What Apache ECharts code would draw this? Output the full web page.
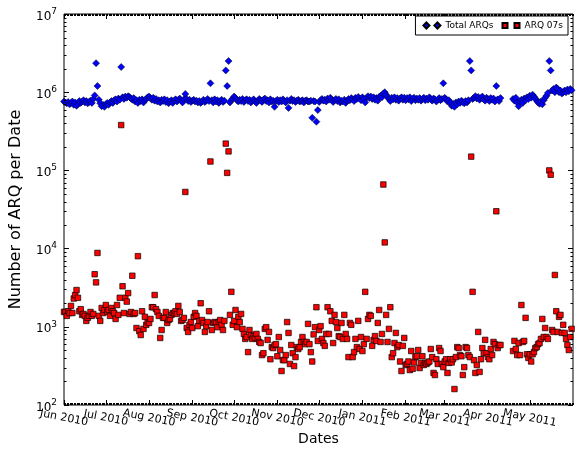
<!DOCTYPE html>
<html><head><meta charset="utf-8">
<script src="https://cdn.jsdelivr.net/npm/echarts@6/dist/echarts.min.js"></script>
<style>html,body{margin:0;padding:0;background:#fff}#c{width:582px;height:450px}</style>
</head><body><div id="c"></div>
<script>
// ---- data (one value per day, starting 2010-06-01) ----
const firstDay = '2010-06-01';
const lastTick = '2011-06-01';
const monthTickDates = ['2010-06-01','2010-07-01','2010-08-01','2010-09-01','2010-10-01','2010-11-01','2010-12-01','2011-01-01','2011-02-01','2011-03-01','2011-04-01','2011-05-01'];
const monthTickLabels = ['Jun 2010','Jul 2010','Aug 2010','Sep 2010','Oct 2010','Nov 2010','Dec 2010','Jan 2011','Feb 2011','Mar 2011','Apr 2011','May 2011'];
const yMinorTicks = [2e2,3e2,4e2,5e2,6e2,7e2,8e2,9e2,2e3,3e3,4e3,5e3,6e3,7e3,8e3,9e3,2e4,3e4,4e4,5e4,6e4,7e4,8e4,9e4,2e5,3e5,4e5,5e5,6e5,7e5,8e5,9e5,2e6,3e6,4e6,5e6,6e6,7e6,8e6,9e6];

const totalARQs = [
7.6e5,7.4e5,7.2e5,7.5e5,7.0e5,7.3e5,7.6e5,6.9e5,7.4e5,6.7e5,
7.0e5,7.7e5,7.3e5,7.6e5,7.9e5,7.4e5,7.7e5,7.2e5,7.5e5,7.8e5,
7.3e5,8.2e5,9.1e5,2.35e6,1.2e6,8.0e5,7.2e5,6.6e5,6.9e5,6.5e5,
7.0e5,7.3e5,6.9e5,7.4e5,7.7e5,7.3e5,7.9e5,8.1e5,7.6e5,8.3e5,
8.0e5,2.1e6,8.6e5,8.2e5,8.8e5,8.5e5,8.9e5,8.7e5,8.3e5,8.0e5,
8.4e5,7.6e5,7.9e5,7.3e5,8.0e5,7.7e5,8.1e5,7.4e5,7.9e5,8.2e5,
8.6e5,8.8e5,8.4e5,8.0e5,8.5e5,7.8e5,8.2e5,7.6e5,7.9e5,7.4e5,
8.0e5,7.7e5,8.1e5,7.5e5,7.9e5,7.2e5,7.6e5,7.9e5,7.3e5,7.8e5,
8.1e5,7.6e5,8.0e5,8.3e5,7.8e5,7.4e5,8.1e5,9.5e5,8.2e5,7.7e5,
8.0e5,7.5e5,7.8e5,8.0e5,7.6e5,7.8e5,7.4e5,7.7e5,7.3e5,7.6e5,
8.0e5,7.5e5,7.8e5,8.2e5,7.7e5,1.3e6,7.9e5,7.4e5,8.1e5,7.6e5,
7.9e5,7.3e5,7.7e5,8.0e5,7.5e5,7.8e5,1.9e6,1.2e6,2.5e6,7.4e5,
7.9e5,8.3e5,8.8e5,8.4e5,7.9e5,7.6e5,8.0e5,7.7e5,8.2e5,7.5e5,
7.9e5,8.1e5,7.7e5,8.0e5,7.4e5,7.8e5,8.1e5,7.6e5,7.3e5,7.8e5,
8.2e5,7.9e5,7.5e5,8.0e5,8.3e5,7.7e5,7.9e5,7.4e5,8.1e5,7.6e5,
7.8e5,6.5e5,7.7e5,8.0e5,7.5e5,7.9e5,7.6e5,8.1e5,7.7e5,7.4e5,
7.9e5,6.3e5,7.8e5,8.2e5,7.7e5,7.9e5,7.5e5,7.8e5,8.0e5,7.6e5,
7.7e5,7.9e5,7.4e5,7.8e5,7.9e5,7.6e5,7.6e5,7.8e5,4.7e5,7.7e5,
7.6e5,4.2e5,5.9e5,7.5e5,7.9e5,8.2e5,7.8e5,8.0e5,7.6e5,8.3e5,
8.0e5,8.5e5,7.9e5,7.5e5,7.9e5,8.2e5,7.7e5,8.1e5,7.4e5,7.8e5,
7.6e5,8.0e5,7.3e5,7.8e5,8.2e5,7.9e5,8.4e5,8.1e5,7.7e5,8.5e5,
8.2e5,8.7e5,8.3e5,7.9e5,8.6e5,8.2e5,7.4e5,8.5e5,8.9e5,8.4e5,
8.8e5,8.2e5,8.6e5,8.0e5,8.4e5,7.8e5,8.7e5,9.0e5,8.6e5,9.6e5,
1.0e6,9.3e5,8.7e5,8.2e5,7.7e5,8.5e5,8.1e5,8.6e5,8.0e5,8.4e5,
7.8e5,8.3e5,8.6e5,8.0e5,8.5e5,7.9e5,8.4e5,8.1e5,8.6e5,7.7e5,
8.2e5,8.5e5,7.9e5,8.3e5,8.0e5,8.4e5,7.8e5,8.2e5,8.5e5,7.9e5,
8.3e5,8.0e5,8.6e5,8.2e5,7.8e5,8.3e5,8.1e5,7.6e5,8.0e5,8.4e5,
7.9e5,8.2e5,1.3e6,8.5e5,8.1e5,7.6e5,7.9e5,7.3e5,6.7e5,7.1e5,
6.5e5,7.4e5,7.0e5,7.6e5,7.3e5,7.8e5,7.5e5,7.2e5,7.7e5,7.4e5,
7.9e5,2.5e6,1.9e6,8.2e5,8.5e5,8.9e5,8.3e5,8.7e5,8.0e5,8.4e5,
8.8e5,8.1e5,7.8e5,8.5e5,8.2e5,7.7e5,8.4e5,8.0e5,8.3e5,7.6e5,
1.2e6,8.1e5,7.7e5,8.4e5,null,null,null,null,null,null,
null,null,8.2e5,7.8e5,8.5e5,7.4e5,6.6e5,7.6e5,8.0e5,7.3e5,
8.3e5,7.9e5,8.6e5,8.2e5,9.0e5,8.5e5,9.3e5,8.8e5,8.3e5,7.8e5,
7.4e5,7.1e5,7.6e5,7.0e5,7.9e5,8.5e5,9.0e5,9.8e5,2.5e6,1.9e6,
1.05e6,1.1e6,1.0e6,1.15e6,1.1e6,1.0e6,1.05e6,9.6e5,1.0e6,1.05e6,
1.0e6,1.08e6,1.03e6,1.1e6,1.06e6
];

const arq07s = [
1550,1550,1380,1580,1500,1850,1500,2300,2550,2950,
2350,1580,1680,1420,1460,1380,1190,1300,1380,1545,
1380,1460,4700,3700,8800,1380,1190,1740,1500,1640,
1900,1545,1640,1380,1740,1580,1500,1260,1900,1420,
2350,380000,3300,1500,2350,2100,2700,1460,1545,4500,
1460,1500,965,8000,880,785,1580,940,1340,1060,
1150,1120,1260,1780,1780,2550,1680,1545,1380,720,
910,1300,1300,1545,1120,1220,1260,1420,1500,1500,
1580,1460,1850,1545,1190,1220,1300,53000,965,860,
1060,1150,965,1340,1500,1380,1020,1190,2000,1220,
1120,860,1020,1150,1580,130000,910,1120,1150,1120,
990,1150,1220,1060,910,1190,220000,93000,175000,1420,
2800,1060,1190,1640,990,1340,1150,1460,940,810,
700,740,475,910,785,700,760,720,810,700,
640,620,435,460,940,990,680,860,385,550,
535,585,600,420,740,505,272,375,375,435,
1150,835,335,585,460,315,410,550,520,550,
640,740,640,600,640,1090,600,475,360,800,
990,1780,660,910,1020,700,620,570,810,1780,
810,1580,1190,620,1420,1150,965,760,740,1120,
700,1420,810,700,410,1120,1060,410,475,700,
550,1190,520,740,490,600,2800,700,1260,1420,
1380,570,680,760,660,1120,1640,640,810,66000,
12000,1420,640,940,1780,410,460,620,835,550,
585,360,272,570,720,325,335,360,280,490,
290,350,410,420,505,297,345,420,325,345,
335,350,360,520,410,257,242,385,335,535,
490,335,305,360,385,257,345,385,350,385,
160,410,550,535,435,420,242,305,550,535,
435,410,150000,2800,375,257,325,860,265,385,
535,460,680,460,410,385,520,435,640,600,
30000,535,585,585,null,null,null,null,null,null,
null,null,490,660,520,435,620,435,1900,640,
660,1300,445,400,445,360,445,475,535,550,
600,620,700,1260,740,965,740,700,100000,88000,
910,860,4600,1580,860,1340,1420,835,1060,835,
700,585,505,740,940
];

// ---- build ----
const DAY = 86400000;
const t0 = Date.parse(firstDay);
const tEnd = Date.parse(lastTick);
const monthTicks = monthTickDates.map(d => Date.parse(d));
const dayTicks = [];
for (let t = t0; t <= tEnd; t += DAY) dayTicks.push(t);
const totalData = totalARQs.map((v, i) => [t0 + i * DAY, v]);
const arqData = arq07s.map((v, i) => [t0 + i * DAY, v]);

const FONT = 'DejaVu Sans';
const chart = echarts.init(document.getElementById('c'), null, {renderer: 'canvas'});

const xBase = {
  type: 'value', min: t0, max: tEnd, gridIndex: 0, scale: true,
  axisLine: {show: false}, splitLine: {show: false}
};
const yBase = {
  type: 'log', logBase: 10, min: 100, max: 1e7, gridIndex: 0,
  axisLine: {show: false}, splitLine: {show: false}, minorTick: {show: false}
};

function decorationSeries() {
  return [{
    // minor log ticks on left and right frame
    type: 'custom', silent: true, z: 5, clip: false,
    xAxisIndex: 0, yAxisIndex: 0,
    data: yMinorTicks.map(v => [t0, v]),
    renderItem: (params, api) => {
      const p = api.coord([api.value(0), api.value(1)]);
      const cs = params.coordSys;
      const y = Math.round(p[1]) + 0.5;
      return {type: 'group', children: [
        {type: 'line', shape: {x1: cs.x, y1: y, x2: cs.x + 2.5, y2: y}, style: {stroke: '#000', lineWidth: 1}},
        {type: 'line', shape: {x1: cs.x + cs.width, y1: y, x2: cs.x + cs.width - 2.5, y2: y}, style: {stroke: '#000', lineWidth: 1}}
      ]};
    }
  }, {
    // daily minor ticks on bottom and top frame
    type: 'custom', silent: true, z: 5, clip: false,
    xAxisIndex: 0, yAxisIndex: 0,
    data: dayTicks.map(t => [t, 1e7]),
    renderItem: (params, api) => {
      const p = api.coord([api.value(0), api.value(1)]);
      const cs = params.coordSys;
      const x = Math.round(p[0]) + 0.5;
      return {type: 'group', children: [
        {type: 'line', shape: {x1: x, y1: cs.y + cs.height, x2: x, y2: cs.y + cs.height - 2}, style: {stroke: '#000', lineWidth: 1}},
        {type: 'line', shape: {x1: x, y1: cs.y, x2: x, y2: cs.y + 2}, style: {stroke: '#000', lineWidth: 1}}
      ]};
    }
  }, {
    // rotated month tick labels
    type: 'custom', silent: true, z: 5, clip: false,
    xAxisIndex: 0, yAxisIndex: 0,
    data: monthTicks.map((t, i) => [t, 100, i]),
    renderItem: (params, api) => {
      const p = api.coord([api.value(0), api.value(1)]);
      const i = api.value(2);
      return {
        type: 'text', x: p[0], y: p[1] + 13, rotation: -11 * Math.PI / 180,
        style: {text: monthTickLabels[i], align: 'center', verticalAlign: 'middle',
                fontFamily: FONT, fontSize: 11, fill: '#000'}
      };
    }
  }];
}

const option = {
  animation: false,
  backgroundColor: '#fff',
  textStyle: {fontFamily: FONT, color: '#000'},
  grid: {left: 64, right: 9, top: 14, bottom: 45, containLabel: false, outerBoundsMode: 'none',
         show: true, borderColor: '#000', borderWidth: 1, backgroundColor: 'transparent'},
  legend: {
    right: 14, top: 16, orient: 'horizontal',
    backgroundColor: '#fff', borderColor: '#000', borderWidth: 1, borderRadius: 0,
    padding: [5, 5, 5, 7], itemGap: 8, itemWidth: 17, itemHeight: 6,
    textStyle: {fontFamily: FONT, fontSize: 9, color: '#000'},
    data: [
      {name: 'Total ARQs', icon: 'path://M0,3L3,0L6,3L3,6Z M11,3L14,0L17,3L14,6Z'},
      {name: 'ARQ 07s', icon: 'path://M0,0.5H5V5.5H0Z M12,0.5H17V5.5H12Z'}
    ]
  },
  xAxis: [
    Object.assign({}, xBase, {
      position: 'bottom',
      name: 'Dates', nameLocation: 'middle', nameGap: 27,
      nameTextStyle: {fontFamily: FONT, fontSize: 14, color: '#000'},
      axisTick: {show: true, inside: true, length: 5, customValues: monthTicks, lineStyle: {color: '#000'}},
      axisLabel: {show: false}
    }),
    Object.assign({}, xBase, {
      position: 'top',
      axisTick: {show: true, inside: true, length: 5, customValues: monthTicks, lineStyle: {color: '#000'}},
      axisLabel: {show: false}
    })
  ],
  yAxis: [
    Object.assign({}, yBase, {
      position: 'left',
      name: 'Number of ARQ per Date', nameLocation: 'middle', nameGap: 40, nameRotate: 90,
      nameTextStyle: {fontFamily: FONT, fontSize: 16, color: '#000'},
      axisTick: {show: true, inside: true, length: 5, lineStyle: {color: '#000'}},
      axisLabel: {
        show: true, margin: 7, fontFamily: FONT, color: '#000', showMinLabel: true, showMaxLabel: true,
        formatter: (v) => '{b|10}{s|' + Math.round(Math.log10(v)) + '}',
        rich: {
          b: {fontFamily: FONT, fontSize: 12, color: '#000', padding: [5, 0, 0, 0]},
          s: {fontFamily: FONT, fontSize: 9, color: '#000', padding: [0, 0, 5, 0]}
        }
      }
    }),
    Object.assign({}, yBase, {
      position: 'right',
      axisTick: {show: true, inside: true, length: 5, lineStyle: {color: '#000'}},
      axisLabel: {show: false}
    })
  ],
  series: [
    {
      name: 'Total ARQs', type: 'scatter', xAxisIndex: 0, yAxisIndex: 0,
      symbol: 'diamond', symbolSize: 7, data: totalData, z: 3,
      itemStyle: {color: '#0000ff', borderColor: '#000', borderWidth: 0.5, opacity: 1},
      emphasis: {disabled: true}
    },
    {
      name: 'ARQ 07s', type: 'scatter', xAxisIndex: 0, yAxisIndex: 0,
      symbol: 'rect', symbolSize: 5.5, data: arqData, z: 4,
      itemStyle: {color: '#ff0000', borderColor: '#000', borderWidth: 0.7, opacity: 1},
      emphasis: {disabled: true}
    }
  ].concat(decorationSeries())
};
chart.setOption(option);
</script>
</body></html>
